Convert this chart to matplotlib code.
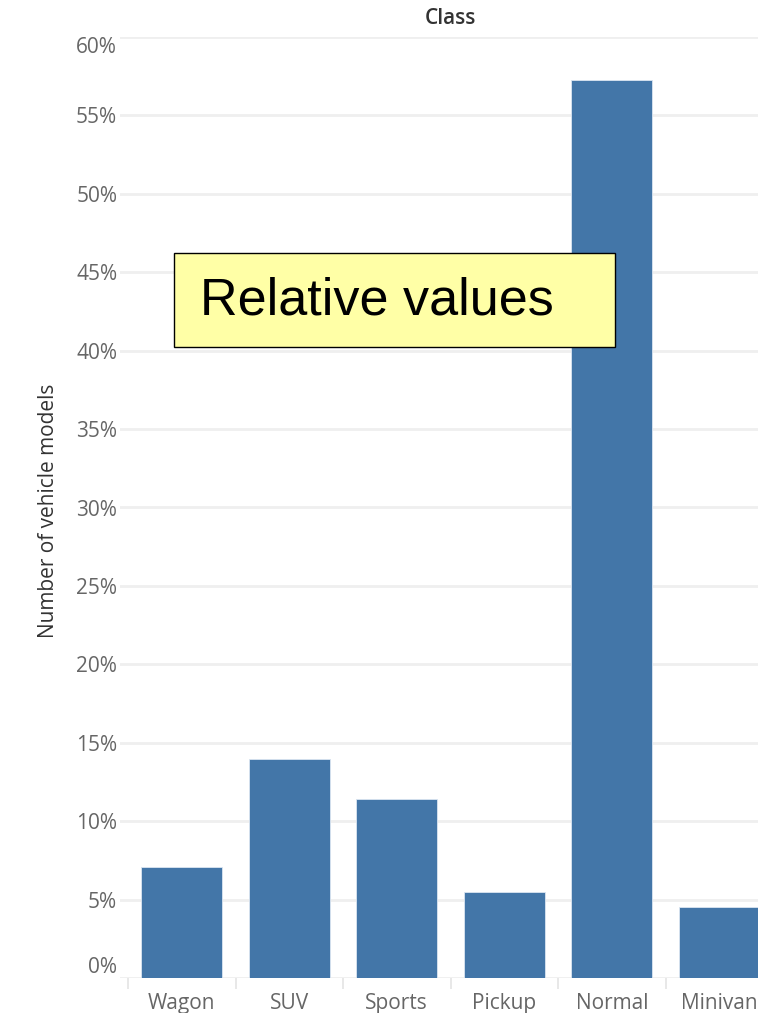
import matplotlib
matplotlib.use("Agg")
import matplotlib.pyplot as plt
from matplotlib.patches import Rectangle
from matplotlib.ticker import FixedLocator, PercentFormatter
import numpy as np

# Share of vehicle models per class (%)
classes = ["Wagon", "SUV", "Sports", "Pickup", "Normal", "Minivan"]
shares = [7.08, 13.97, 11.42, 5.48, 57.27, 4.53]
y_ticks = [0, 5, 10, 15, 20, 25, 30, 35, 40, 45, 50, 55, 60]

BAR_COLOR = "#4376a8"
GRID_COLOR = "#efefef"
TICK_TEXT = "#666666"
LABEL_TEXT = "#333333"

plt.rcParams["font.family"] = ["Open Sans", "DejaVu Sans"]

W, H = 758, 1013
fig = plt.figure(figsize=(W / 100, H / 100), dpi=100)
fig.patch.set_facecolor("white")

# axes box in pixels: left 120, right 758, top 37, bottom 978
ax = fig.add_axes([120 / W, (H - 978) / H, (W - 120) / W, (978 - 37) / H])

x = np.arange(len(classes))
ax.bar(x, shares, width=0.75, color=BAR_COLOR, edgecolor="#dbe6f2",
       linewidth=0.6, zorder=3)

ax.set_ylim(0, 60)
ax.set_xlim(-0.575, 5.36)

for side in ("top", "right", "left", "bottom"):
    ax.spines[side].set_visible(False)

ax.yaxis.set_major_locator(FixedLocator(y_ticks))
ax.yaxis.set_major_formatter(PercentFormatter(decimals=0))
ax.grid(axis="y", color=GRID_COLOR, linewidth=2, zorder=0)
ax.tick_params(axis="y", length=0, pad=2, labelsize=15, labelcolor=TICK_TEXT)

# keep the end labels inside the pane
ylabels = ax.get_yticklabels()
ylabels[0].set_va("bottom")
ylabels[-1].set_va("top")

ax.set_xticks(x)
ax.set_xticklabels(classes)
ax.set_xticks(np.arange(len(classes)) - 0.5, minor=True)
ax.tick_params(axis="x", which="major", length=0, pad=11, labelsize=15,
               labelcolor=TICK_TEXT)
ax.tick_params(axis="x", which="minor", length=8, width=1.2, color="#e4e4e4",
               direction="out")

ax.set_ylabel("Number of vehicle models", fontsize=15, color=LABEL_TEXT)
ax.yaxis.set_label_coords(-0.095, 0.497)

fig.text(450 / W, 1 - 19 / H, "Class", ha="center", va="center",
         fontsize=15, fontweight="semibold", color=LABEL_TEXT)

# callout box
box = Rectangle((174 / W, 1 - 347 / H), (615 - 174) / W, (347 - 253) / H,
                transform=fig.transFigure, facecolor="#ffffa6",
                edgecolor="black", linewidth=1.0, zorder=10)
fig.patches.append(box)
fig.text(200 / W, 1 - 301 / H, "Relative values", ha="left", va="center",
         fontsize=37.5, family=["Liberation Sans", "DejaVu Sans"],
         color="black", zorder=11)

fig.savefig("out.png", dpi=100)
plt.close(fig)
